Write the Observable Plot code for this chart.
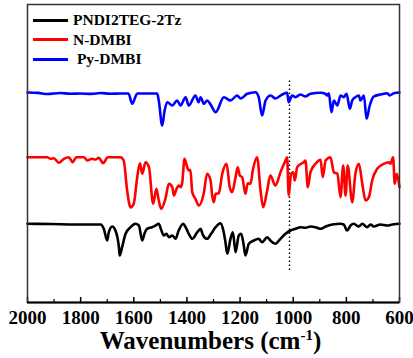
<!DOCTYPE html>
<html>
<head>
<meta charset="utf-8">
<script src="https://cdn.jsdelivr.net/npm/d3@7"></script>
<script src="https://cdn.jsdelivr.net/npm/@observablehq/plot@0.6"></script>
<style>
  html, body { margin: 0; padding: 0; background: #fff; }
  #wrap { position: relative; width: 413px; height: 358px; overflow: hidden; font-family: "Liberation Serif", "Times New Roman", serif; font-weight: bold; }
  #legend { position: absolute; left: 33px; top: 0; }
  .row { position: absolute; left: 0; white-space: pre; font-size: 15.5px; line-height: 18px; display: flex; align-items: center; }
  .swatch { display: inline-block; width: 35px; height: 3px; margin-right: 5px; }
  #xlabel { position: absolute; left: 0; width: 421px; text-align: center; top: 327px; font-size: 25px; line-height: 28px; white-space: nowrap; }
  #xlabel sup { font-size: 15px; vertical-align: 9px; line-height: 0; }
</style>
</head>
<body>
<div id="wrap"></div>
<script>
// Series names and colours
const seriesNames = ["PNDI2TEG-2Tz", "N-DMBI", " Py-DMBI"];
const seriesColors = ["#000000", "#ff0000", "#0000ff"];

// X tick values (wavenumbers, cm-1)
const majorTicks = [2000, 1800, 1600, 1400, 1200, 1000, 800, 600];
const minorTicks = [1900, 1700, 1500, 1300, 1100, 900, 700];

// Reference wavenumber marked by the dotted line, and its vertical extent (offset transmittance units)
const markerWn = 1014;
const markerRange = [32, 223];

// Series: [wavenumber, offset transmittance (a.u.)]
const pndi = [
  [2000,78.7],[1913,78.5],[1819,78],[1725,78],[1713,73.7],[1700,62],[1694,70.3],[1681,76],[1669,72],
  [1656,55.3],[1653,47],[1644,55.3],[1631,68.7],[1612,75.3],[1594,78.7],[1581,77],[1568,62],[1560,68.7],
  [1550,73.7],[1531,75.3],[1518,77],[1506,78.7],[1496,72],[1487,67],[1477,68.7],[1468,65.3],[1455,67],
  [1443,63.7],[1431,72],[1414,78.7],[1405,75.3],[1393,68.7],[1380,63.7],[1361,70.3],[1349,73.7],[1339,67],
  [1324,63.7],[1309,68.7],[1292,75.3],[1274,79.3],[1263,72],[1255,60.3],[1248,48.7],[1236,63.7],[1227,70.3],
  [1217,50.3],[1205,67],[1196,68.7],[1186,57],[1180,47],[1167,58.7],[1148,62],[1130,63.7],[1117,60.3],
  [1098,65.3],[1086,62],[1067,58.7],[1048,63.7],[1029,68.7],[1010,72],[991,73.7],[973,75.3],[954,74.7],
  [935,76],[916,75.3],[897,73.7],[878,76],[853,78],[822,78.7],[810,78],[797,72],[784,77],[772,78.7],
  [753,76],[740,78.7],[722,75.3],[709,78],[697,76],[672,78],[646,77],[627,78],[602,78.7],[600,78.7]
];
const nDMBI = [
  [2000,145.3],[1926,145.3],[1913,143.7],[1901,144.3],[1882,139.7],[1863,143.7],[1845,145.3],[1830,140.3],
  [1816,145.3],[1788,145.3],[1775,142],[1757,143.7],[1744,143],[1732,144.7],[1715,139.3],[1698,145.3],
  [1650,145.3],[1638,142],[1625,112],[1612,95],[1600,99],[1587,125.3],[1577,139.3],[1568,128.7],[1556,140.3],
  [1543,135.3],[1527,98.7],[1515,113.7],[1506,102],[1497,93.7],[1481,103.7],[1468,118.7],[1455,115.3],
  [1449,107],[1439,113.7],[1431,117],[1424,115.3],[1418,119.3],[1409,143.7],[1399,135.3],[1393,132],
  [1387,132.7],[1380,110.3],[1368,103.7],[1355,97],[1337,108.7],[1324,128.7],[1311,122],[1305,107],
  [1299,100.3],[1292,108.7],[1280,109.3],[1267,128.7],[1251,138.7],[1239,115.3],[1230,110.3],[1217,125.3],
  [1209,135.3],[1201,127],[1192,125.3],[1180,108.7],[1171,119.3],[1161,118.7],[1151,133.7],[1136,145.3],
  [1123,112],[1113,95.3],[1098,112],[1086,127],[1067,117],[1048,130.3],[1029,142],[1023,145.3],[1017,107],
  [1008,128.7],[1000,130.3],[994,122],[985,135.3],[970,138.7],[960,140.3],[954,142],[945,115.3],[935,130.3],
  [916,138.7],[897,142.7],[889,125.3],[878,142],[860,145.3],[847,130.3],[834,128.7],[822,105.3],[812,137],
  [803,107],[795,137],[778,100.3],[766,128.7],[753,138.7],[740,118.7],[728,102],[715,105.3],[703,122],
  [684,133.7],[659,138.7],[640,140.3],[634,138.7],[624,145.3],[618,118.7],[611,128.7],[605,123.7],[600,115.3]
];
const pyDMBI = [
  [2000,210],[1960,209.6],[1925,208.5],[1876,209.5],[1840,208.8],[1800,209],[1760,208.6],[1725,209.5],
  [1690,208.7],[1650,209],[1620,209],[1606,198.7],[1587,209],[1537,209],[1512,209],[1506,202],[1493,177],
  [1484,192],[1474,200.3],[1455,197],[1437,202],[1424,197],[1405,205.3],[1393,197],[1368,207],[1356,200.3],
  [1349,205.3],[1336,198.7],[1324,202],[1311,198],[1292,190.3],[1261,205.3],[1236,202],[1211,207],
  [1198,204],[1173,208.7],[1142,210.3],[1130,205.3],[1117,187],[1104,202],[1085,207],[1067,204],[1041,208],
  [1023,209.7],[1017,200.3],[1004,207],[991,205.3],[973,208],[954,206],[935,208.7],[897,209.7],[879,208.7],
  [872,207],[866,209.3],[856,190.3],[847,202],[834,197],[822,207],[810,205.3],[799,208.7],[787,193.7],
  [778,202],[766,205.3],[753,207],[747,202],[734,207],[724,183.7],[712,197],[697,206],[672,208],[646,209.3],
  [637,207],[621,209.3],[600,210]
];

const series = [pndi, nDMBI, pyDMBI];

const font = {fontFamily: "Liberation Serif", fontWeight: "bold", fontSize: 19};

const plot = Plot.plot({
  width: 413,
  height: 326,
  marginLeft: 27,
  marginRight: 14,
  marginTop: 4,
  marginBottom: 24,
  style: {background: "#fff", ...font, overflow: "visible"},
  x: {domain: [2000, 600]},
  y: {domain: [0, 298], axis: null},
  marks: [
    Plot.ruleX([markerWn], {y1: markerRange[0], y2: markerRange[1], stroke: "#000", strokeWidth: 1.4, strokeDasharray: "1.4,2.6"}),
    ...series.map((s, i) => Plot.line(s, {x: d => d[0], y: d => d[1], stroke: seriesColors[i], strokeWidth: 2.6, curve: "monotone-x"})),
    Plot.ruleX(majorTicks, {y1: 0, y2: 5, stroke: "#000", strokeWidth: 1.5}),
    Plot.ruleX(minorTicks, {y1: 0, y2: 3, stroke: "#000", strokeWidth: 1.2}),
    Plot.frame({stroke: "#333", strokeWidth: 1.5}),
    Plot.ruleY([0], {stroke: "#000", strokeWidth: 2}),
    Plot.axisX(majorTicks, {tickSize: 0, tickPadding: 8, tickFormat: d => String(d), ...font, fill: "#000", label: null})
  ]
});

const wrap = document.getElementById("wrap");
wrap.appendChild(plot);

// Legend (inside plot, top-left)
const legend = document.createElement("div");
legend.id = "legend";
const centers = [20, 39.5, 59];
seriesNames.forEach((name, i) => {
  const row = document.createElement("div");
  row.className = "row";
  row.style.top = (centers[i] - 9) + "px";
  const sw = document.createElement("span");
  sw.className = "swatch";
  sw.style.background = seriesColors[i];
  const tx = document.createElement("span");
  tx.textContent = name;
  row.appendChild(sw);
  row.appendChild(tx);
  legend.appendChild(row);
});
wrap.appendChild(legend);

// X axis title with superscript
const xl = document.createElement("div");
xl.id = "xlabel";
xl.innerHTML = "Wavenumbers (cm<sup>-1</sup>)";
wrap.appendChild(xl);
</script>
</body>
</html>
